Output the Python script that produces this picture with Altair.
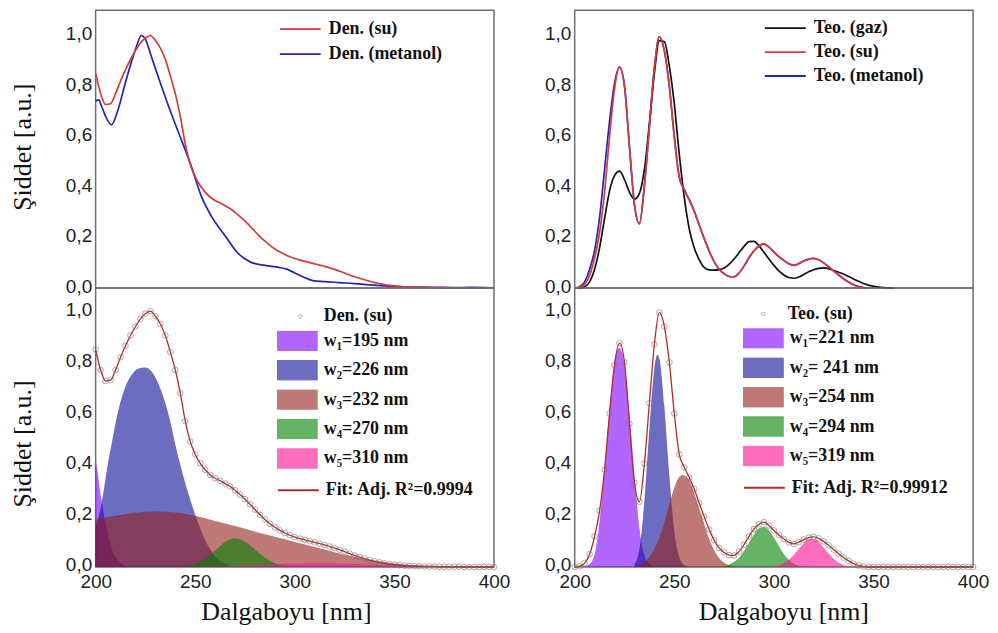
import altair as alt
import pandas as pd

WL = [200 + 2.5 * i for i in range(81)]

# ---- experimental spectra (top-left) ----
DEN_SU = [0.85, 0.77, 0.727, 0.73, 0.77, 0.82, 0.865, 0.905, 0.94, 0.97,
          0.99, 1.0, 0.98, 0.95, 0.905, 0.84, 0.77, 0.68, 0.57, 0.49,
          0.44, 0.405, 0.38, 0.36, 0.347, 0.337, 0.326, 0.315, 0.30, 0.283,
          0.265, 0.245, 0.224, 0.204, 0.186, 0.169, 0.155, 0.143, 0.133, 0.124,
          0.117, 0.111, 0.106, 0.101, 0.096, 0.091, 0.086, 0.080, 0.074, 0.067,
          0.060, 0.052, 0.045, 0.039, 0.033, 0.027, 0.022, 0.018, 0.014, 0.011,
          0.009, 0.007, 0.005, 0.004, 0.003, 0.003, 0.002, 0.002, 0.002, 0.001,
          0.001, 0.001, 0.001, 0.001, 0.0, 0.0, 0.0, 0.0, 0.0, 0.0, 0.0]
DEN_MET_X = [200, 201.5, 203, 205, 208, 211, 215, 220, 223, 225, 228, 233, 238,
             243, 248, 253, 258, 265, 271, 278, 285, 292, 296, 300, 304, 309,
             315, 322, 330, 336, 343, 350, 357, 364, 372, 380, 388, 396, 400]
DEN_MET_Y = [0.74, 0.745, 0.72, 0.68, 0.647, 0.70, 0.815, 0.945, 1.0, 0.985,
             0.916, 0.80, 0.69, 0.588, 0.483, 0.365, 0.286, 0.207, 0.142, 0.102,
             0.09, 0.082, 0.075, 0.06, 0.045, 0.03, 0.026, 0.022, 0.018, 0.014,
             0.01, 0.007, 0.004, 0.004, 0.003, 0.002, 0.003, 0.002, 0.0]

# ---- theoretical spectra (top-right) ----
TEO_SU = [0.0, 0.003, 0.015, 0.05, 0.12, 0.22, 0.38, 0.60, 0.79, 0.875,
          0.80, 0.56, 0.33, 0.255, 0.405, 0.64, 0.87, 0.995, 0.94, 0.80,
          0.60, 0.44, 0.39, 0.35, 0.305, 0.25, 0.197, 0.147, 0.105, 0.075,
          0.057, 0.046, 0.045, 0.06, 0.087, 0.12, 0.148, 0.167, 0.175, 0.162,
          0.143, 0.125, 0.11, 0.096, 0.09, 0.097, 0.107, 0.115, 0.118, 0.112,
          0.10, 0.085, 0.068, 0.052, 0.037, 0.024, 0.013, 0.006, 0.002, 0.0,
          0.0, 0.0, 0.0, 0.0, 0.0, 0.0, 0.0, 0.0, 0.0, 0.0,
          0.0, 0.0, 0.0, 0.0, 0.0, 0.0, 0.0, 0.0, 0.0, 0.0, 0.0]
TEO_MET = [0.0, 0.006, 0.025, 0.075, 0.15, 0.28, 0.47, 0.66, 0.81, 0.875,
           0.80, 0.56, 0.33, 0.255, 0.405, 0.64, 0.87, 0.995, 0.94, 0.80,
           0.60, 0.44, 0.39, 0.35, 0.305, 0.25, 0.197, 0.147, 0.105, 0.075,
           0.057, 0.046, 0.045, 0.06, 0.087, 0.12, 0.148, 0.167, 0.175, 0.162,
           0.143, 0.125, 0.11, 0.096, 0.09, 0.097, 0.107, 0.115, 0.118, 0.112,
           0.10, 0.085, 0.068, 0.052, 0.037, 0.024, 0.013, 0.006, 0.002, 0.0]
TEO_GAZ = [0.0, 0.0, 0.005, 0.025, 0.075, 0.16, 0.275, 0.385, 0.445, 0.463,
           0.43, 0.38, 0.352, 0.375, 0.47, 0.65, 0.85, 0.98, 0.975, 0.88,
           0.73, 0.53, 0.36, 0.235, 0.16, 0.113, 0.082, 0.072, 0.071, 0.073,
           0.08, 0.094, 0.115, 0.14, 0.165, 0.184, 0.185, 0.168, 0.142, 0.115,
           0.09, 0.068, 0.052, 0.042, 0.039, 0.044, 0.054, 0.065, 0.073, 0.078,
           0.08, 0.077, 0.07, 0.063, 0.056, 0.046, 0.036, 0.027, 0.018, 0.012,
           0.007, 0.004, 0.002, 0.001, 0.0]

# ---- deconvolution components, bottom-left (Den. su) ----
BL_NAMES = ["w\u2081=195 nm", "w\u2082=226 nm", "w\u2083=232 nm", "w\u2084=270 nm", "w\u2085=310 nm"]
BL_X = [
    [200, 201, 202, 203, 204, 205, 207, 209, 212, 215, 218],
    [200, 201.3, 203, 206.3, 208, 211.3, 214.7, 218, 221.3, 225, 228, 231.3,
     236.3, 241.3, 246.3, 251.3, 256.3, 261.3, 266, 272],
    [200, 210, 220, 230, 240, 250, 260, 270, 280, 290, 300, 310, 320, 330,
     340, 350, 360, 370, 380],
    [245, 250, 255, 260, 265, 270, 275, 280, 285, 290, 295, 300],
    [250, 260, 270, 280, 290, 300, 310, 320, 330, 340, 350, 360, 370, 380, 390, 400],
]
BL_Y = [
    [0.42, 0.37, 0.31, 0.26, 0.21, 0.17, 0.10, 0.055, 0.02, 0.005, 0.0],
    [0.16, 0.19, 0.25, 0.41, 0.48, 0.61, 0.70, 0.75, 0.775, 0.78, 0.765, 0.72,
     0.605, 0.436, 0.293, 0.176, 0.085, 0.03, 0.01, 0.0],
    [0.185, 0.20, 0.212, 0.217, 0.213, 0.20, 0.18, 0.16, 0.138, 0.118, 0.098,
     0.078, 0.058, 0.04, 0.025, 0.014, 0.007, 0.003, 0.0],
    [0.004, 0.013, 0.032, 0.065, 0.098, 0.112, 0.098, 0.068, 0.036, 0.015, 0.005, 0.0],
    [0.0, 0.002, 0.004, 0.007, 0.01, 0.013, 0.015, 0.014, 0.012, 0.009, 0.007,
     0.005, 0.003, 0.002, 0.001, 0.001],
]

# ---- deconvolution components, bottom-right (Teo. su) ----
BR_NAMES = ["w\u2081=221 nm", "w\u2082= 241 nm", "w\u2083=254 nm", "w\u2084=294 nm", "w\u2085=319 nm"]
BR_X = [
    [205, 207.5, 210, 212.5, 215, 217.5, 220, 222.3, 225, 227.5, 230, 232.5,
     235, 237.5, 240, 242.5],
    [230, 232.5, 235, 237.5, 240, 241.5, 242.5, 245, 247.5, 250, 252.5, 255, 257.5],
    [230, 232.5, 235, 237.5, 240, 242.5, 245, 247.5, 250, 252.5, 254.3, 255,
     257.5, 260, 262.5, 265, 267.5, 270, 272.5, 275, 277.5, 280, 282.5],
    [275, 277.5, 280, 282.5, 285, 287.5, 290, 292.5, 295, 297.5, 300, 302.5,
     305, 307.5, 310, 312.5, 315, 317.5],
    [297.5, 300, 302.5, 305, 307.5, 310, 312.5, 315, 317.5, 320, 322.5, 325,
     327.5, 330, 332.5, 335, 337.5, 340, 342.5],
]
BR_Y = [
    [0.003, 0.012, 0.05, 0.18, 0.39, 0.62, 0.80, 0.856, 0.79, 0.60, 0.36, 0.15,
     0.045, 0.012, 0.002, 0.0],
    [0.01, 0.07, 0.26, 0.54, 0.78, 0.83, 0.815, 0.63, 0.36, 0.14, 0.04, 0.008, 0.0],
    [0.0, 0.008, 0.017, 0.04, 0.07, 0.115, 0.17, 0.245, 0.31, 0.352, 0.36, 0.358,
     0.34, 0.29, 0.23, 0.17, 0.11, 0.066, 0.035, 0.017, 0.007, 0.003, 0.0],
    [0.0, 0.01, 0.02, 0.036, 0.063, 0.095, 0.127, 0.151, 0.157, 0.144, 0.115,
     0.082, 0.05, 0.028, 0.013, 0.005, 0.002, 0.0],
    [0.001, 0.003, 0.007, 0.015, 0.028, 0.047, 0.07, 0.093, 0.108, 0.109, 0.10,
     0.076, 0.053, 0.032, 0.017, 0.008, 0.003, 0.001, 0.0],
]

FILLS = ["#8000ff", "#0a0a96", "#931e1b", "#008000", "#ff0d93"]
FIT_BL = "Fit: Adj. R\u00b2=0.9994"
FIT_BR = "Fit: Adj. R\u00b2=0.99912"
YTITLE = "\u015eiddet [a.u.]"
XTITLE = "Dalgaboyu [nm]"
RECT = "M-1,-0.5L1,-0.5L1,0.5L-1,0.5Z"

LBL_FONT = "Liberation Sans"
SERIF = "Liberation Serif"


def y_axis(title, title_y=None):
    kw = dict(values=[0, 0.2, 0.4, 0.6, 0.8, 1.0],
              labelExpr="replace(format(datum.value, '.1f'), '.', ',')",
              ticks=False, domain=False, grid=False,
              labelFont=LBL_FONT, labelFontSize=19, labelColor="#222",
              labelPadding=4, labelOffset=-2)
    if title:
        kw.update(title=YTITLE, titleFont=SERIF, titleFontSize=26,
                  titleFontWeight="normal", titleColor="#111", titlePadding=30)
        if title_y is not None:
            kw.update(titleY=title_y)
    else:
        kw.update(title=None)
    return alt.Axis(**kw)


def x_axis(title_x):
    return alt.Axis(values=[200, 250, 300, 350, 400], format="d", title=XTITLE,
                    ticks=False, domain=False, grid=False,
                    labelFont=LBL_FONT, labelFontSize=19, labelColor="#222",
                    labelPadding=6, labelFlush=False,
                    titleFont=SERIF, titleFontSize=26, titleFontWeight="normal",
                    titleColor="#111", titlePadding=7, titleX=title_x)


def legend(x, y, **kw):
    base = dict(orient="none", legendX=x, legendY=y, title=None, padding=0,
                labelFont=SERIF, labelFontSize=18, labelFontWeight="bold",
                labelColor="#111", labelLimit=400)
    base.update(kw)
    return alt.Legend(**base)


XS = alt.Scale(domain=[200, 400], nice=False, zero=False)
YS_TOP = alt.Scale(domain=[0, 1.1], nice=False)
YS_BOT = alt.Scale(domain=[0, 1.09], nice=False)


# ---------------- top-left ----------------
tl_df = pd.DataFrame({
    "x": WL + DEN_MET_X,
    "y": DEN_SU + DEN_MET_Y,
    "s": ["Den. (su)"] * len(WL) + ["Den. (metanol)"] * len(DEN_MET_X),
})
tl_enc = dict(
    x=alt.X("x:Q", scale=XS, axis=None),
    y=alt.Y("y:Q", scale=YS_TOP, axis=y_axis(True, 137)),
    color=alt.Color("s:N", scale=alt.Scale(domain=["Den. (su)", "Den. (metanol)"],
                                           range=["#d83a3a", "#2323b5"]),
                    legend=legend(184, 10, symbolType="stroke", symbolSize=1681,
                                  symbolStrokeWidth=1.8, clipHeight=18,
                                  rowPadding=7, labelOffset=7)),
)
tl_base = alt.Chart(tl_df)
tl = alt.layer(
    tl_base.transform_filter("datum.s == 'Den. (metanol)'")
    .mark_line(strokeWidth=1.7, interpolate="monotone").encode(**tl_enc),
    tl_base.transform_filter("datum.s == 'Den. (su)'")
    .mark_line(strokeWidth=1.7, interpolate="monotone").encode(**tl_enc),
).properties(width=400, height=279)

# ---------------- top-right ----------------
TR_DOM = ["Teo. (gaz)", "Teo. (su)", "Teo. (metanol)"]
tr_df = pd.DataFrame({
    "x": WL[:65] + WL[:60] + WL[:60],
    "y": TEO_GAZ + TEO_SU[:60] + TEO_MET,
    "s": [TR_DOM[0]] * 65 + [TR_DOM[1]] * 60 + [TR_DOM[2]] * 60,
})
tr_enc = dict(
    x=alt.X("x:Q", scale=XS, axis=None),
    y=alt.Y("y:Q", scale=YS_TOP, axis=y_axis(False)),
    color=alt.Color("s:N", scale=alt.Scale(domain=TR_DOM,
                                           range=["#111111", "#d83a3a", "#2323b5"]),
                    legend=legend(190, 9, symbolType="stroke", symbolSize=1681,
                                  symbolStrokeWidth=1.8, clipHeight=18,
                                  rowPadding=6, labelOffset=7)),
)
tr_base = alt.Chart(tr_df)
tr = alt.layer(
    *[tr_base.transform_filter(f"datum.s == '{s}'")
      .mark_line(strokeWidth=1.7, interpolate="monotone").encode(**tr_enc)
      for s in ["Teo. (metanol)", "Teo. (gaz)", "Teo. (su)"]]
).properties(width=400, height=279)


# ---------------- bottom panels ----------------
def deconv_panel(names, xs, ys, data_y, data_name, fit_name, leg_x, leg_y,
                 circ_x, circ_off, y_title, title_x, title_y):
    area_df = pd.concat([pd.DataFrame({"x": x, "y": y, "p": n})
                         for n, x, y in zip(names, xs, ys)], ignore_index=True)
    pts_df = pd.DataFrame({"x": WL, "y": data_y, "d": data_name})
    fit_df = pd.DataFrame({"x": WL, "y": data_y, "f": fit_name})
    X = alt.X("x:Q", scale=XS, axis=x_axis(title_x))
    Y = alt.Y("y:Q", scale=YS_BOT, axis=y_axis(y_title, title_y), stack=None)
    areas = alt.Chart(area_df).mark_area(opacity=0.6, interpolate="monotone").encode(
        x=X, y=Y,
        fill=alt.Fill("p:N", scale=alt.Scale(domain=names, range=FILLS),
                      legend=legend(leg_x, leg_y, symbolType=RECT, symbolSize=1681,
                                    symbolOpacity=0.6, symbolStrokeWidth=0,
                                    clipHeight=21, rowPadding=8.5, labelOffset=6)),
    )
    fit = alt.Chart(fit_df).mark_line(strokeWidth=1.3, interpolate="monotone").encode(
        x=X, y=Y,
        stroke=alt.Stroke("f:N", scale=alt.Scale(domain=[fit_name], range=["#b52a2a"]),
                          legend=legend(leg_x, leg_y + 150.5, symbolType="stroke",
                                        symbolSize=1681, symbolStrokeWidth=2,
                                        clipHeight=20, labelOffset=6)),
    )
    pts = alt.Chart(pts_df).mark_point(filled=False, size=32, strokeWidth=0.9,
                                       color="#777777").encode(
        x=X, y=Y,
        shape=alt.Shape("d:N", scale=alt.Scale(domain=[data_name], range=["circle"]),
                        legend=legend(circ_x, leg_y - 23, symbolSize=12,
                                      symbolStrokeColor="#777777",
                                      symbolStrokeWidth=0.8, labelOffset=circ_off)),
    )
    return alt.layer(areas, fit, pts).properties(width=400, height=280)


bl = deconv_panel(BL_NAMES, BL_X, BL_Y, DEN_SU, "Den. (su)", FIT_BL, 182, 42.5,
                  196.5, 14.5, True, 191, 156)
br = deconv_panel(BR_NAMES, BR_X, BR_Y, TEO_SU, "Teo. (su)", FIT_BR, 169, 40,
                  180.5, 15.5, False, 209.5, None)

RES = dict(x="independent", y="independent", color="independent",
           fill="independent", stroke="independent", shape="independent")
LRES = dict(color="independent", fill="independent", stroke="independent",
            shape="independent")

left_col = alt.vconcat(tl, bl, spacing=0, bounds="flush").resolve_scale(**RES).resolve_legend(**LRES)
right_col = alt.vconcat(tr, br, spacing=0, bounds="flush").resolve_scale(**RES).resolve_legend(**LRES)

chart = (
    alt.hconcat(left_col, right_col, spacing=32)
    .resolve_scale(**RES).resolve_legend(**LRES)
    .properties(padding=0, background="white")
    .configure_view(stroke="#6e6e6e", strokeWidth=1.5)
)

chart.save("out.html", embed_options={"renderer": "svg", "actions": False})
